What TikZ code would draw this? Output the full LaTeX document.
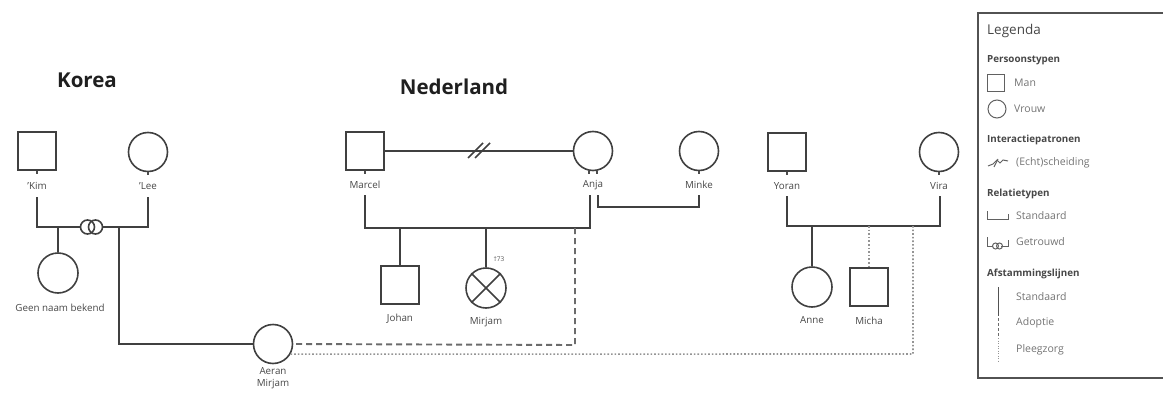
\documentclass[tikz,border=0pt]{standalone}
\usepackage{fontspec}
\setmainfont{Open Sans}
\begin{document}
\begin{tikzpicture}[x=1pt,y=-1pt,
  ln/.style={draw=black!75, line width=1.6pt},
  man/.style={draw=black!75, line width=1.6pt, minimum size=38pt, inner sep=0pt, rectangle, fill=white},
  woman/.style={draw=black!75, line width=1.6pt, minimum size=39pt, inner sep=0pt, circle, fill=white},
  lbl/.style={font=\fontsize{9.8}{12}\selectfont, text=black!72, inner sep=0pt},
  ttl/.style={font=\fontsize{20.5}{24}\selectfont\bfseries, text=black!88, inner sep=0pt},
  adopt/.style={draw=black!58, line width=1.9pt, dash pattern=on 6pt off 4pt},
  foster/.style={draw=black!42, line width=1.6pt, dash pattern=on 1.6pt off 2pt},
  tick/.style={draw=black!70, line width=1.1pt},
  lgh/.style={font=\fontsize{9.8}{12}\selectfont\bfseries, text=black!72, anchor=west, inner sep=0pt},
  lgt/.style={font=\fontsize{10.5}{12}\selectfont, text=black!55, anchor=west, inner sep=0pt},
  lgs/.style={draw=black!62, line width=1pt},
]
\useasboundingbox (0,0) rectangle (1163,399);
\clip (0,0) rectangle (1163,399);

% ---------------- Korea ----------------
\node[ttl] (korea) at (87,80) {Korea};
\node[man] (kim) at (37,151) {};
\node[woman] (lee) at (148,152) {};
\node[lbl] (kimL) at (37,186) {'Kim};
\node[lbl] (leeL) at (148,186) {'Lee};
\node[woman, minimum size=40pt] (geen) at (58,273) {};
\node[lbl] (geenL) at (60,308) {Geen naam bekend};
\node[woman] (aeran) at (273,344) {};
\node[lbl, align=center] (aeranL) at (273,378) {Aeran\\Mirjam};

\draw[tick] (kim.south) -- ++(0,3);
\draw[tick] (lee.south) -- ++(0,3);
\coordinate (kimD) at (37,197);
\coordinate (leeD) at (148,197);
\coordinate (kl) at (37,227);
\coordinate (lk) at (148,227);
\coordinate (ringA) at (87.5,227);
\coordinate (ringB) at (95.5,227);
\draw[ln] (kimD) -- (kl) -- ([xshift=-7pt]ringA);
\draw[ln] ([xshift=7pt]ringB) -- (lk) -- (leeD);
\draw[ln] (ringA) circle (7);
\draw[ln] (ringB) circle (7);
\coordinate (geenT) at (58,227);
\draw[ln] (geenT) -- (geen.north);
\coordinate (aeranT) at (119,227);
\draw[ln] (aeranT) |- (aeran.west);

% ---------------- Nederland ----------------
\node[ttl] (ned) at (454,87) {Nederland};
\node[man] (marcel) at (365,151) {};
\node[woman] (anja) at (593,151) {};
\node[woman] (minke) at (699,151) {};
\node[lbl] (marcelL) at (365,185) {Marcel};
\node[lbl] (anjaL) at (593,185) {Anja};
\node[lbl] (minkeL) at (699,185) {Minke};
\draw[tick] (marcel.south) -- ++(0,3);
\draw[tick] ([xshift=-4pt]anja.south) -- ++(0,3);
\draw[tick] ([xshift=4pt]anja.south) -- ++(0,3);
\draw[tick] (minke.south) -- ++(0,3);

\draw[ln] (marcel.east) -- (anja.west);
\draw[ln] (468,158) -- (483,143);
\draw[ln] (475,158) -- (490,143);

\coordinate (marcelD) at (365,195);
\coordinate (anjaD) at (590,195);
\draw[ln] (marcelD) -- (365,228) -- (590,228) -- (anjaD);
\coordinate (anjaD2) at (598,195);
\coordinate (minkeD) at (699,195);
\draw[ln] (anjaD2) -- (598,207) -- (699,207) -- (minkeD);

\node[man] (johan) at (400,285) {};
\node[lbl] (johanL) at (400,319) {Johan};
\draw[ln] (400,228) -- (johan.north);

\node[woman, minimum size=40pt] (mirjam) at (486,288) {};
\draw[ln] (mirjam.45) -- (mirjam.225);
\draw[ln] (mirjam.135) -- (mirjam.315);
\node[lbl] (mirjamL) at (486,322) {Mirjam};
\node[font=\fontsize{6.5}{8}\selectfont, text=black!65, inner sep=0pt] (mirjamD) at (499,259) {†73};
\draw[ln] (486,228) -- (mirjam.north);

\coordinate (adoptT) at (575,228);
\draw[adopt] (adoptT) -- (575,345) -- (aeran.east);

% ---------------- Yoran / Vira ----------------
\node[man] (yoran) at (787,152) {};
\node[woman] (vira) at (939,152) {};
\node[lbl] (yoranL) at (787,186) {Yoran};
\node[lbl] (viraL) at (939,186) {Vira};
\draw[tick] (yoran.south) -- ++(0,3);
\draw[tick] (vira.south) -- ++(0,3);
\coordinate (yoranD) at (787,196);
\coordinate (viraD) at (940,196);
\draw[ln] (yoranD) -- (787,226) -- (940,226) -- (viraD);

\node[woman, minimum size=40pt] (anne) at (812,287) {};
\node[lbl] (anneL) at (812,320) {Anne};
\draw[ln] (812,226) -- (anne.north);
\node[man] (micha) at (869,287) {};
\node[lbl] (michaL) at (869,321) {Micha};
\draw[foster] (869,226) -- (micha.north);

\coordinate (fosterT) at (913,226);
\draw[foster] (fosterT) -- (913,354) -- (aeran.-30);

% ---------------- Legend ----------------
\draw[draw=black!68, line width=2pt] (978,13) rectangle (1175,378);
\node[font=\fontsize{13.5}{16}\selectfont, text=black!72, anchor=west, inner sep=0pt] (lg) at (987,31) {Legenda};
\node[lgh] (lg1) at (987,60) {Persoonstypen};
\node[draw=black!62, line width=1pt, minimum size=17pt, inner sep=0pt] (lgman) at (996,83) {};
\node[lgt] (lgmanT) at (1014,83) {Man};
\node[draw=black!62, line width=1pt, circle, minimum size=18pt, inner sep=0pt] (lgvr) at (997,109) {};
\node[lgt] (lgvrT) at (1014,109) {Vrouw};
\node[lgh] (lg2) at (987,140) {Interactiepatronen};
\draw[lgs] (988,166) -- (993,164) -- (997,160) -- (1000,163) -- (1003,160) -- (1008,161);
\draw[lgs] (994,167) -- (998,159);
\node[lgt] (lgsch) at (1016,163) {(Echt)scheiding};
\node[lgh] (lg3) at (987,194) {Relatietypen};
\draw[lgs] (987,211) -- (987,219) -- (1008,219) -- (1008,214);
\node[lgt] (lgst) at (1016,216) {Standaard};
\draw[lgs] (987,237) -- (987,246) -- (993,246);
\draw[lgs] (1001,246) -- (1008,246) -- (1008,240);
\draw[lgs] (995.5,246) circle (3);
\draw[lgs] (999.5,246) circle (3);
\node[lgt] (lggt) at (1016,242) {Getrouwd};
\node[lgh] (lg4) at (987,274) {Afstammingslijnen};
\draw[draw=black!68, line width=1pt] (998,287) -- (998,316);
\draw[draw=black!58, line width=1pt, dash pattern=on 3pt off 2pt] (998,318) -- (998,336);
\draw[draw=black!42, line width=1pt, dash pattern=on 1pt off 1.5pt] (998,338) -- (998,362);
\node[lgt] (lga) at (1016,297) {Standaard};
\node[lgt] (lgb) at (1016,323) {Adoptie};
\node[lgt] (lgc) at (1016,350) {Pleegzorg};
\end{tikzpicture}
\end{document}
